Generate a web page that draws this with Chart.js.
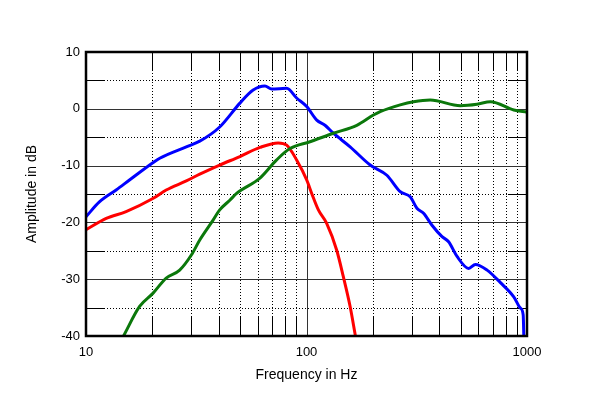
<!DOCTYPE html>
<html>
<head>
<meta charset="utf-8">
<script src="https://cdn.jsdelivr.net/npm/chart.js@4.4.0/dist/chart.umd.min.js"></script>
<style>
  html, body { margin: 0; padding: 0; background: #fff; }
  #wrap { width: 600px; height: 416px; }
</style>
</head>
<body>
<div id="wrap"><canvas id="fr" width="600" height="416"></canvas></div>
<script>
// tick labels
const xTickValues = [10, 100, 1000];
const yTickValues = [-40, -30, -20, -10, 0, 10];

// blue curve
const blueFreq = [10, 11.5, 13.7, 15.8, 20.1, 21.6, 28.5, 32.8, 40.4, 49.9, 57.3, 64.8, 69.5, 81.3, 90.2, 100.2,
  111.3, 121.3, 132.4, 157.7, 194.4, 231.5, 266.1, 295.3, 316.7, 339.5, 370.7, 411.8, 441.1, 481.7,
  543.8, 583.4, 659.2, 757.7, 870.9, 934.4, 961.1, 968];
const blueDb = [-19.0, -16.4, -14.3, -12.5, -9.5, -8.7, -6.7, -5.7, -3.2, 1.0, 3.3, 4.0, 3.5, 3.6, 1.9, 0.4,
  -2.0, -2.9, -4.3, -6.7, -9.9, -11.7, -14.6, -15.5, -17.5, -18.4, -20.5, -22.5, -23.4, -26.0,
  -28.1, -27.4, -28.4, -30.6, -33.1, -35.1, -36.3, -40.5];

// red curve
const redFreq = [10, 12.35, 15.2, 20.1, 23.1, 28.5, 32.8, 40.4, 49.9, 61.5, 74.4, 81.3, 90.2, 100.2,
  105.6, 113.2, 123.6, 137.1, 147.0, 157.7, 166.7];
const redDb = [-21.3, -19.3, -18.1, -15.8, -14.3, -12.7, -11.5, -9.9, -8.4, -6.8, -6.0, -6.4, -9.0, -12.5,
  -14.9, -17.8, -20.2, -24.9, -29.6, -34.8, -40.0];

// green curve
const greenFreq = [14.8, 17.5, 20.1, 23.1, 26.6, 30.1, 32.8, 37.7, 40.4, 44.9, 48.2, 61.5, 73.2, 84.1, 103.7,
  132.4, 169.1, 201.2, 215.9, 266.1, 305.9, 364.2, 498.7, 593.6, 682.4, 870.9, 1000];
const greenDb = [-40.0, -34.8, -32.5, -29.8, -28.4, -25.7, -23.1, -19.6, -17.8, -16.1, -14.9, -12.2, -9.0, -7.0, -5.8,
  -4.3, -2.9, -1.1, -0.5, 0.7, 1.25, 1.55, 0.55, 0.8, 1.25, -0.2, -0.6];

const xMinor = [20, 30, 40, 50, 60, 70, 80, 90, 200, 300, 400, 500, 600, 700, 800, 900];
const yMinor = [-35, -25, -15, -5, 5];
const xMajor = [100];
const yMajor = [-30, -20, -10, 0];

function pts(fs, ds) {
    return fs.map((f, i) => ({ x: f, y: ds[i] }));
}

const gridPlugin = {
    id: "labGrid",
    beforeDatasetsDraw(chart) {
        const ctx = chart.ctx;
        const a = chart.chartArea;
        const xs = chart.scales.x, ys = chart.scales.y;
        const tick = 19;
        ctx.save();
        // dotted minor lines
        ctx.strokeStyle = "#000";
        ctx.lineWidth = 1;
        ctx.setLineDash([1, 2]);
        ctx.beginPath();
        xMinor.forEach(v => {
            const px = Math.round(xs.getPixelForValue(v)) + 0.5;
            ctx.moveTo(px, a.top); ctx.lineTo(px, a.bottom);
        });
        yMinor.forEach(v => {
            const py = Math.round(ys.getPixelForValue(v)) + 0.5;
            ctx.moveTo(a.left, py); ctx.lineTo(a.right, py);
        });
        ctx.stroke();
        ctx.setLineDash([]);
        // solid major lines
        ctx.strokeStyle = "#333";
        ctx.beginPath();
        xMajor.forEach(v => {
            const px = Math.round(xs.getPixelForValue(v)) + 0.5;
            ctx.moveTo(px, a.top); ctx.lineTo(px, a.bottom);
        });
        yMajor.forEach(v => {
            const py = Math.round(ys.getPixelForValue(v)) + 0.5;
            ctx.moveTo(a.left, py); ctx.lineTo(a.right, py);
        });
        ctx.stroke();
        // inward ticks at minor positions
        ctx.strokeStyle = "#000";
        ctx.beginPath();
        xMinor.forEach(v => {
            const px = Math.round(xs.getPixelForValue(v)) + 0.5;
            ctx.moveTo(px, a.top); ctx.lineTo(px, a.top + tick);
            ctx.moveTo(px, a.bottom); ctx.lineTo(px, a.bottom - tick);
        });
        yMinor.forEach(v => {
            const py = Math.round(ys.getPixelForValue(v)) + 0.5;
            ctx.moveTo(a.left, py); ctx.lineTo(a.left + tick, py);
            ctx.moveTo(a.right, py); ctx.lineTo(a.right - tick, py);
        });
        ctx.stroke();
        ctx.restore();
    },
    afterDatasetsDraw(chart) {
        const ctx = chart.ctx;
        const a = chart.chartArea;
        ctx.save();
        ctx.strokeStyle = "#000";
        ctx.lineWidth = 2.5;
        ctx.strokeRect(a.left, a.top, a.right - a.left, a.bottom - a.top);
        ctx.restore();
    }
};

const lineOpts = { borderWidth: 3, pointRadius: 0, fill: false, cubicInterpolationMode: "monotone", clip: 0 };

new Chart(document.getElementById("fr"), {
    type: "line",
    data: {
        datasets: [
            Object.assign({ label: "green", data: pts(greenFreq, greenDb), borderColor: "#0b780b" }, lineOpts),
            Object.assign({ label: "red", data: pts(redFreq, redDb), borderColor: "#ff0000" }, lineOpts),
            Object.assign({ label: "blue", data: pts(blueFreq, blueDb), borderColor: "#0000ff" }, lineOpts)
        ]
    },
    options: {
        responsive: false,
        animation: false,
        events: [],
        layout: { padding: { left: 0, top: 52, right: 73, bottom: 0 } },
        plugins: { legend: { display: false }, tooltip: { enabled: false } },
        scales: {
            x: {
                type: "logarithmic",
                min: 10,
                max: 1000,
                grid: { display: false, drawTicks: false },
                border: { display: false },
                afterBuildTicks: s => { s.ticks = xTickValues.map(v => ({ value: v })); },
                afterFit: s => { s.height = 80; },
                ticks: {
                    autoSkip: false,
                    maxRotation: 0,
                    padding: 9,
                    color: "#000",
                    font: { family: "Liberation Sans", size: 13 },
                    callback: v => String(v)
                },
                title: {
                    display: true,
                    text: "Frequency in Hz",
                    color: "#000",
                    font: { family: "Liberation Sans", size: 14 },
                    padding: { top: 0, bottom: 32 }
                }
            },
            y: {
                min: -40,
                max: 10,
                grid: { display: false, drawTicks: false },
                border: { display: false },
                afterBuildTicks: s => { s.ticks = yTickValues.map(v => ({ value: v })); },
                afterFit: s => { s.width = 86; },
                ticks: {
                    padding: 6,
                    color: "#000",
                    font: { family: "Liberation Sans", size: 13 }
                },
                title: {
                    display: true,
                    text: "Amplitude in dB",
                    color: "#000",
                    font: { family: "Liberation Sans", size: 14 },
                    padding: { top: 24, bottom: 0 }
                }
            }
        }
    },
    plugins: [gridPlugin]
});
</script>
</body>
</html>
